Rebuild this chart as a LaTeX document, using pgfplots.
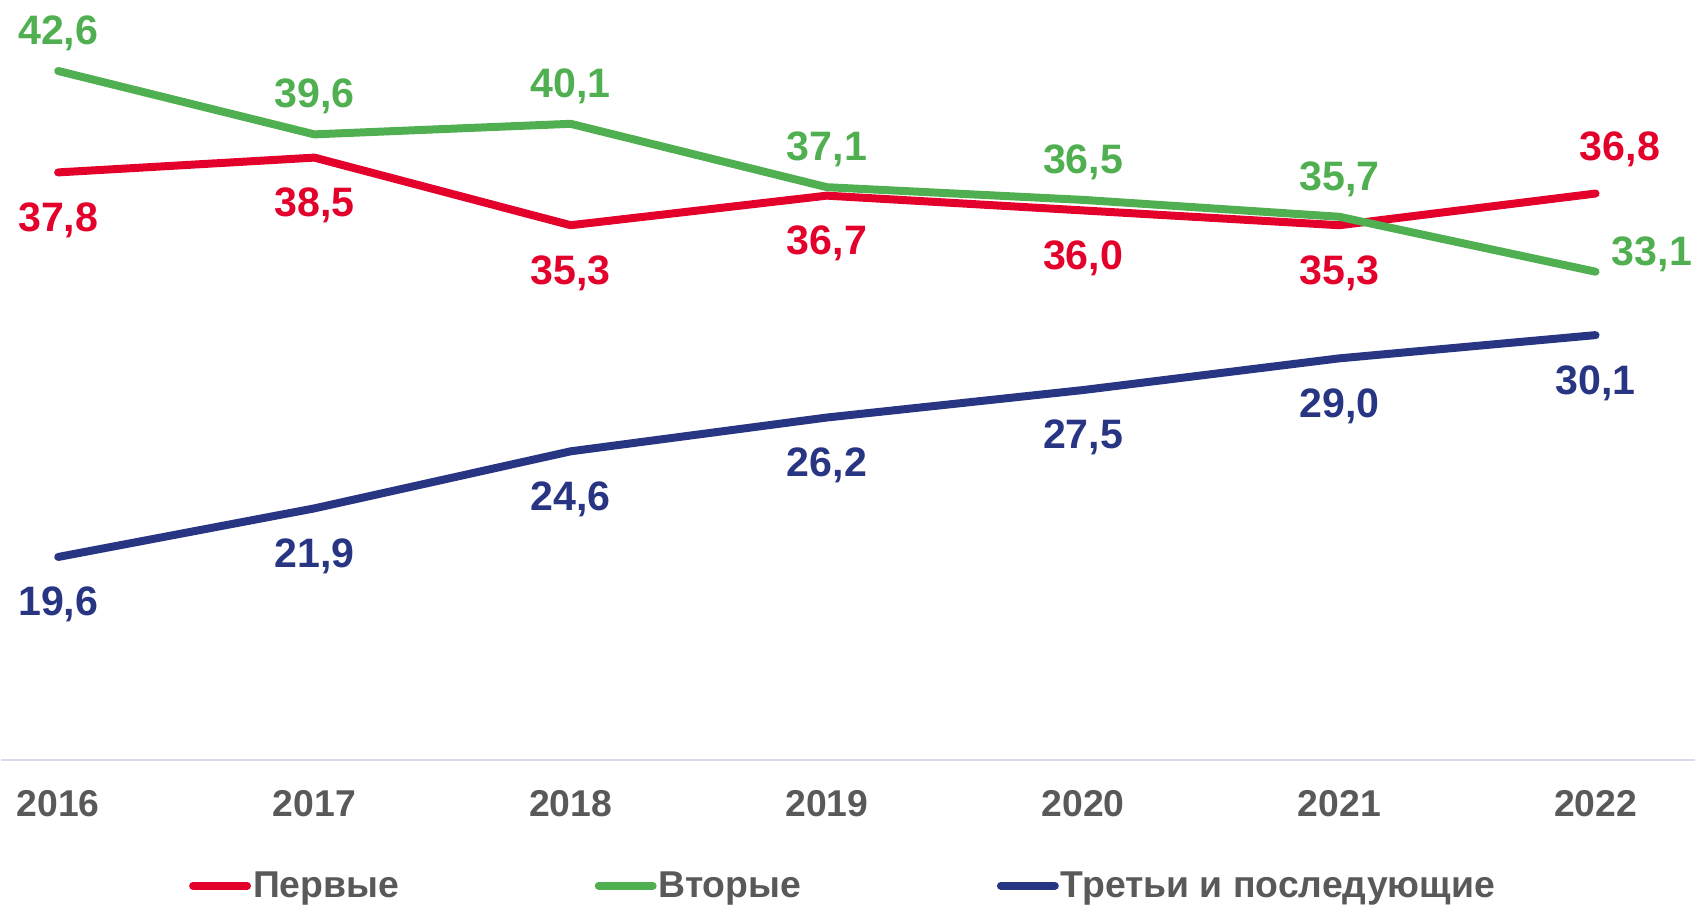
\documentclass[border=0pt]{standalone}
\usepackage{pgfplots}
\pgfplotsset{compat=1.18}
\usepackage{fontspec}
\setmainfont{Liberation Sans}
\definecolor{cred}{HTML}{E3002B}
\definecolor{cgreen}{HTML}{50AF50}
\definecolor{cblue}{HTML}{283583}
\definecolor{cgray}{HTML}{595959}
\definecolor{caxis}{HTML}{D9DBEA}
\newcommand{\lblfont}{\fontsize{20.6}{24}\selectfont\bfseries}
\newcommand{\tickfont}{\fontsize{18.7}{22}\selectfont\bfseries}
\begin{document}
\begin{tikzpicture}
\begin{axis}[
 width=848pt, height=380.5pt, scale only axis,
 xmin=-0.222, xmax=6.387, ymin=10, ymax=45.96,
 axis y line=none, axis x line*=bottom,
 x axis line style={draw=caxis, line width=1.3pt, -},
 xtick={0,1,2,3,4,5,6}, xticklabels={2016,2017,2018,2019,2020,2021,2022},
 major tick length=0,
 xticklabel style={font=\tickfont, text=cgray, anchor=base, inner sep=0pt, yshift=-28.3pt},
 clip=false,
 legend columns=3,
 legend style={draw=none, inner sep=0pt, outer sep=0pt, at={(0.5,0)}, anchor=north, xshift=-3pt, yshift=-55.85pt,
   font=\tickfont, text=cgray,
   nodes={inner sep=0pt, outer sep=0pt},
   /tikz/every odd column/.append style={column sep=1pt},
   /tikz/every even column/.append style={column sep=98pt}},
 legend image code/.code={\draw[#1, line cap=round] (2pt,0pt) -- (29pt,0pt);},
 every node near coord/.append style={inner sep=0pt, anchor=base, font=\lblfont},
]
\addplot[cred, line width=4pt, line join=round, line cap=round] coordinates {(0,37.8)(1,38.5)(2,35.3)(3,36.7)(4,36.0)(5,35.3)(6,36.8)};
\addlegendentry{Первые}
\addplot[cgreen, line width=4pt, line join=round, line cap=round] coordinates {(0,42.6)(1,39.6)(2,40.1)(3,37.1)(4,36.5)(5,35.7)(6,33.1)};
\addlegendentry{Вторые}
\addplot[cblue, line width=4pt, line join=round, line cap=round] coordinates {(0,19.6)(1,21.9)(2,24.6)(3,26.2)(4,27.5)(5,29.0)(6,30.1)};
\addlegendentry{Третьи и последующие}
% invisible frame for the top and bottom edges of the picture
\addplot[draw=none, mark=none, forget plot] coordinates {(-0.222,45.96)(6.387,45.96)(6.387,3.09)(-0.222,3.09)};
% labels
\addplot[draw=none, mark=none, forget plot, nodes near coords, point meta=explicit symbolic,
  every node near coord/.append style={yshift=-29.5pt, text=cred}]
  table[meta=l] {
x y l
0 37.8 37,8
1 38.5 38,5
2 35.3 35,3
3 36.7 36,7
4 36.0 36,0
5 35.3 35,3
};
\addplot[draw=none, mark=none, forget plot, nodes near coords, point meta=explicit symbolic,
  every node near coord/.append style={anchor=base west, xshift=-8pt, yshift=16.7pt, text=cred}]
  table[meta=l] {
x y l
6 36.8 36,8
};
\addplot[draw=none, mark=none, forget plot, nodes near coords, point meta=explicit symbolic,
  every node near coord/.append style={yshift=13.35pt, text=cgreen}]
  table[meta=l] {
x y l
0 42.6 42,6
1 39.6 39,6
2 40.1 40,1
3 37.1 37,1
4 36.5 36,5
5 35.7 35,7
};
\addplot[draw=none, mark=none, forget plot, nodes near coords, point meta=explicit symbolic,
  every node near coord/.append style={anchor=base west, xshift=8pt, yshift=3.3pt, text=cgreen}]
  table[meta=l] {
x y l
6 33.1 33,1
};
\addplot[draw=none, mark=none, forget plot, nodes near coords, point meta=explicit symbolic,
  every node near coord/.append style={yshift=-29.5pt, text=cblue}]
  table[meta=l] {
x y l
0 19.6 19,6
1 21.9 21,9
2 24.6 24,6
3 26.2 26,2
4 27.5 27,5
5 29.0 29,0
6 30.1 30,1
};
\end{axis}
\end{tikzpicture}
\end{document}
